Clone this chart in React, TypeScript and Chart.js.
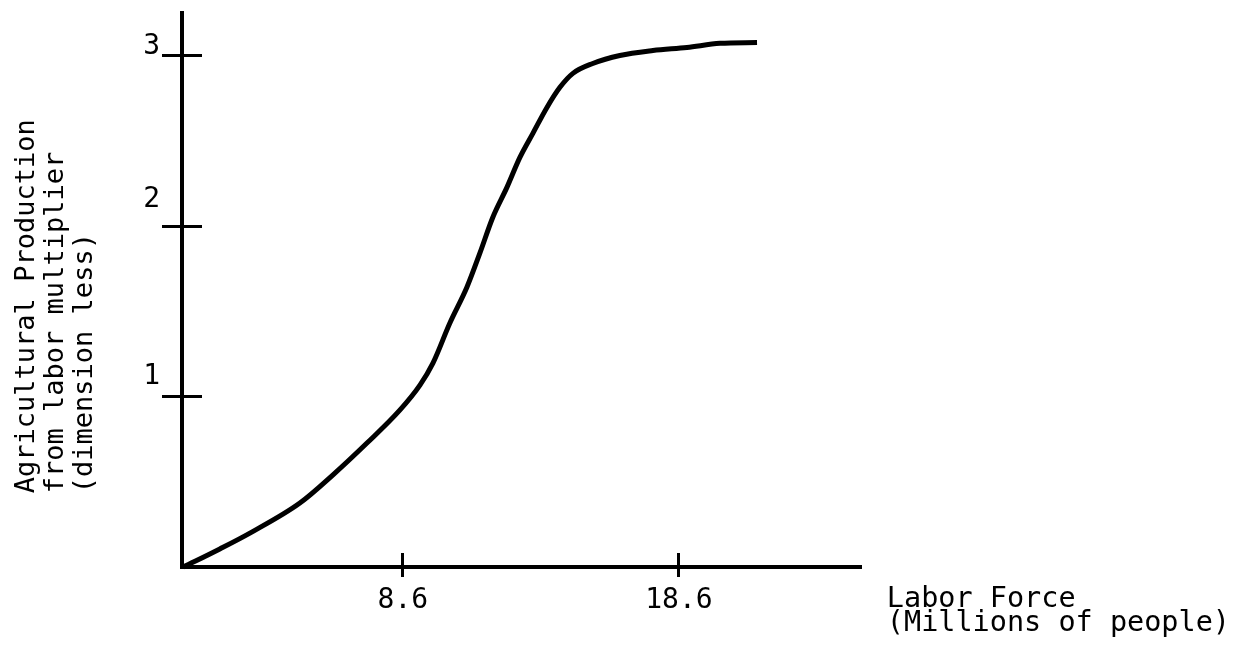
import React, { useEffect, useRef } from "react";
import { Chart, registerables } from "chart.js";

Chart.register(...registerables);

// Curve (labor force in millions, multiplier)
const LABOR_FORCE = [
  0.65, 1.97, 3.06, 4.87, 6.06, 7.3, 8.49, 9.22, 9.69, 10.3, 10.92, 11.39,
  11.86, 12.37, 12.84, 13.31, 13.82, 14.29, 14.76, 15.48, 16.46, 17.66,
  18.89, 20.09, 21.43,
];
const MULTIPLIER = [
  0.0, 0.106, 0.199, 0.375, 0.539, 0.727, 0.92, 1.067, 1.196, 1.43, 1.641,
  1.841, 2.052, 2.227, 2.403, 2.544, 2.696, 2.814, 2.896, 2.954, 3.001, 3.03,
  3.048, 3.072, 3.077,
];

const X_TICKS = [8.6, 18.6];
const X_TICK_LABELS = ["8.6", "18.6"];
const Y_TICKS = [1, 2, 3];
const Y_TICK_LABELS = ["1", "2", "3"];

const X_MIN = 0.6;
const X_MAX = 25.16;
const Y_MIN = 0;
const Y_MAX = 3.25;

const Y_TITLE = [
  "Agricultural Production  ",
  "from labor multiplier    ",
  "(dimension less)         ",
];
const X_TITLE = ["Labor Force         ", "(Millions of people)"];

const FONT = "'DejaVu Sans Mono', 'Liberation Mono', monospace";

export default function App() {
  const ref = useRef<HTMLCanvasElement | null>(null);

  useEffect(() => {
    const canvas = ref.current;
    if (!canvas) return;
    const data = LABOR_FORCE.map((x, i) => ({ x, y: MULTIPLIER[i] }));
    const setXTicks = (s: any) => {
      s.ticks = X_TICKS.map((v) => ({ value: v }));
    };
    const setYTicks = (s: any) => {
      s.ticks = Y_TICKS.map((v) => ({ value: v }));
    };
    const noPad = (s: any) => {
      s.paddingTop = 0;
      s.paddingBottom = 0;
      s.paddingLeft = 0;
      s.paddingRight = 0;
    };
    const pxPerX = 678 / (X_MAX - X_MIN);
    const pxPerY = 554 / (Y_MAX - Y_MIN);
    // how far each y label sits above its tick (as line-height multiplier)
    const yLabelLift = (v: number) => (v >= 3 ? 0.62 : v >= 2 ? 1.85 : 1.45);

    const chart = new Chart(canvas, {
      type: "line",
      data: {
        datasets: [
          {
            data,
            xAxisID: "x",
            yAxisID: "y",
            borderColor: "#000",
            borderWidth: 5,
            pointRadius: 0,
            cubicInterpolationMode: "monotone",
            fill: false,
            clip: false as any,
          },
        ],
      },
      options: {
        responsive: false,
        animation: false,
        devicePixelRatio: 1,
        layout: { padding: { top: 5, left: 0, right: 6, bottom: 0 } },
        plugins: {
          legend: { display: false },
          tooltip: { enabled: false },
          title: {
            display: true,
            position: "bottom",
            align: "end",
            text: X_TITLE,
            color: "#000",
            font: { family: FONT, size: 28.5, weight: "normal", lineHeight: "24px" },
            padding: { top: -29, bottom: 6 },
          },
        },
        scales: {
          x: {
            type: "linear",
            position: "bottom",
            min: X_MIN,
            max: X_MAX,
            afterBuildTicks: setXTicks,
            afterFit: (s: any) => {
              s.height = 50;
              noPad(s);
            },
            border: { display: true, color: "#000", width: 4 },
            grid: {
              display: true,
              drawOnChartArea: false,
              drawTicks: true,
              tickLength: 10,
              color: "#000",
              lineWidth: 3,
            },
            ticks: {
              color: "#000",
              padding: 7,
              maxRotation: 0,
              autoSkip: false,
              font: { family: FONT, size: 28 },
              callback: (v: any) => X_TICK_LABELS[X_TICKS.indexOf(Number(v))] ?? "",
            },
          },
          y: {
            type: "linear",
            position: "left",
            min: Y_MIN,
            max: Y_MAX,
            afterBuildTicks: setYTicks,
            afterFit: (s: any) => {
              s.width = 174;
              noPad(s);
            },
            border: { display: true, color: "#000", width: 4 },
            grid: {
              display: true,
              drawOnChartArea: false,
              drawTicks: true,
              tickLength: 20,
              color: "#000",
              lineWidth: 3,
            },
            ticks: {
              color: "#000",
              padding: 2,
              autoSkip: false,
              font: (ctx: any) => ({
                family: FONT,
                size: 28,
                lineHeight: yLabelLift(ctx.tick ? ctx.tick.value : 1),
              }),
              callback: (v: any) => [Y_TICK_LABELS[Y_TICKS.indexOf(Number(v))] ?? "", ""],
            },
            title: {
              display: true,
              text: Y_TITLE,
              color: "#000",
              align: "center",
              font: { family: FONT, size: 27, lineHeight: "29px" },
              padding: { top: 4.5, bottom: 0 },
            },
          },
          yIn: {
            type: "linear",
            axis: "y",
            position: { x: X_MIN + 20 / pxPerX } as any,
            min: Y_MIN,
            max: Y_MAX,
            afterBuildTicks: setYTicks,
            afterFit: noPad,
            border: { display: false },
            grid: {
              display: true,
              drawOnChartArea: false,
              drawTicks: true,
              tickLength: 20,
              color: "#000",
              lineWidth: 3,
            },
            ticks: { display: false },
          },
          xIn: {
            type: "linear",
            axis: "x",
            position: { y: Y_MIN + 14 / pxPerY } as any,
            min: X_MIN,
            max: X_MAX,
            afterBuildTicks: setXTicks,
            afterFit: noPad,
            border: { display: false },
            grid: {
              display: true,
              drawOnChartArea: false,
              drawTicks: true,
              tickLength: 14,
              color: "#000",
              lineWidth: 3,
            },
            ticks: { display: false },
          },
          yR: {
            type: "linear",
            position: "right",
            min: 0,
            max: 1,
            afterFit: (s: any) => {
              s.width = 370;
              noPad(s);
            },
            border: { display: false },
            grid: { display: false },
            ticks: { display: false },
          },
        } as any,
      },
    });
    return () => chart.destroy();
  }, []);

  return (
    <div style={{ width: 1228, height: 634 }}>
      <canvas ref={ref} width={1228} height={634} style={{ display: "block" }} />
    </div>
  );
}
